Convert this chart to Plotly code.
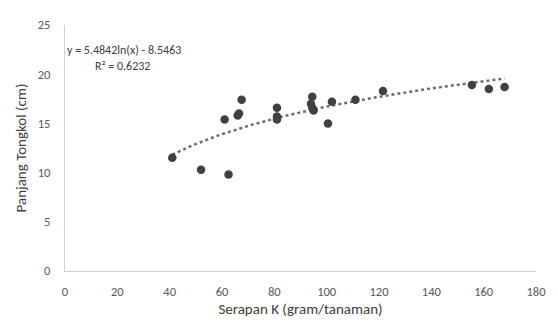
import numpy as np
import plotly.graph_objects as go

serapan_k = [41, 52, 62.5, 61, 66, 66.5, 67.5, 81, 81, 81, 94.5, 94, 94.5, 95,
             100.5, 102, 111, 121.5, 155.5, 162, 168]
panjang_tongkol = [11.5, 10.3, 9.8, 15.4, 15.8, 16.0, 17.4, 16.6, 15.7, 15.4,
                   17.7, 17.0, 16.6, 16.3, 15.0, 17.2, 17.4, 18.3, 18.9, 18.5, 18.7]
coef_a = 5.4842
coef_b = -8.5463
r2 = 0.6232
x_ticks = [0, 20, 40, 60, 80, 100, 120, 140, 160, 180]
y_ticks = [0, 5, 10, 15, 20, 25]

font_fam = "Carlito, Calibri, Lato, sans-serif"

xt = np.linspace(min(serapan_k), max(serapan_k), 200)
yt = coef_a * np.log(xt) + coef_b

fig = go.Figure()
fig.add_trace(go.Scatter(x=xt, y=yt, mode="lines",
                         line=dict(color="#6d6d6d", width=2.5, dash="dot"),
                         hoverinfo="skip", showlegend=False))
fig.add_trace(go.Scatter(x=serapan_k, y=panjang_tongkol, mode="markers",
                         marker=dict(color="#404040", size=8.5),
                         showlegend=False))

fig.add_annotation(x=22.5, y=22.5, xref="x", yref="y",
                   text=f"y = {coef_a}ln(x) - {abs(coef_b)}",
                   showarrow=False, font=dict(family=font_fam, size=12, color="#404040"))
fig.add_annotation(x=21.8, y=20.85, xref="x", yref="y",
                   text=f"R² = {r2}",
                   showarrow=False, font=dict(family=font_fam, size=12, color="#404040"))

fig.update_layout(
    width=550, height=317,
    margin=dict(l=57, r=22, t=9, b=54),
    paper_bgcolor="white", plot_bgcolor="white",
    font=dict(family=font_fam, color="#595959", size=12.5),
)
fig.update_xaxes(range=[0, 180], tickvals=x_ticks, showgrid=False, zeroline=False,
                 showline=True, linecolor="#d0d0d0", linewidth=1.3,
                 ticks="outside", ticklen=9, tickcolor="rgba(0,0,0,0)",
                 title=dict(text="Serapan K (gram/tanaman)", standoff=5,
                            font=dict(size=15, color="#404040")))
fig.update_yaxes(range=[0, 25], tickvals=y_ticks, showgrid=False, zeroline=False,
                 showline=True, linecolor="#d0d0d0", linewidth=1.3,
                 ticks="outside", ticklen=11, tickcolor="rgba(0,0,0,0)",
                 title=dict(text="Panjang Tongkol (cm)", standoff=7,
                            font=dict(size=15, color="#404040")))

fig.write_html("out.html")
